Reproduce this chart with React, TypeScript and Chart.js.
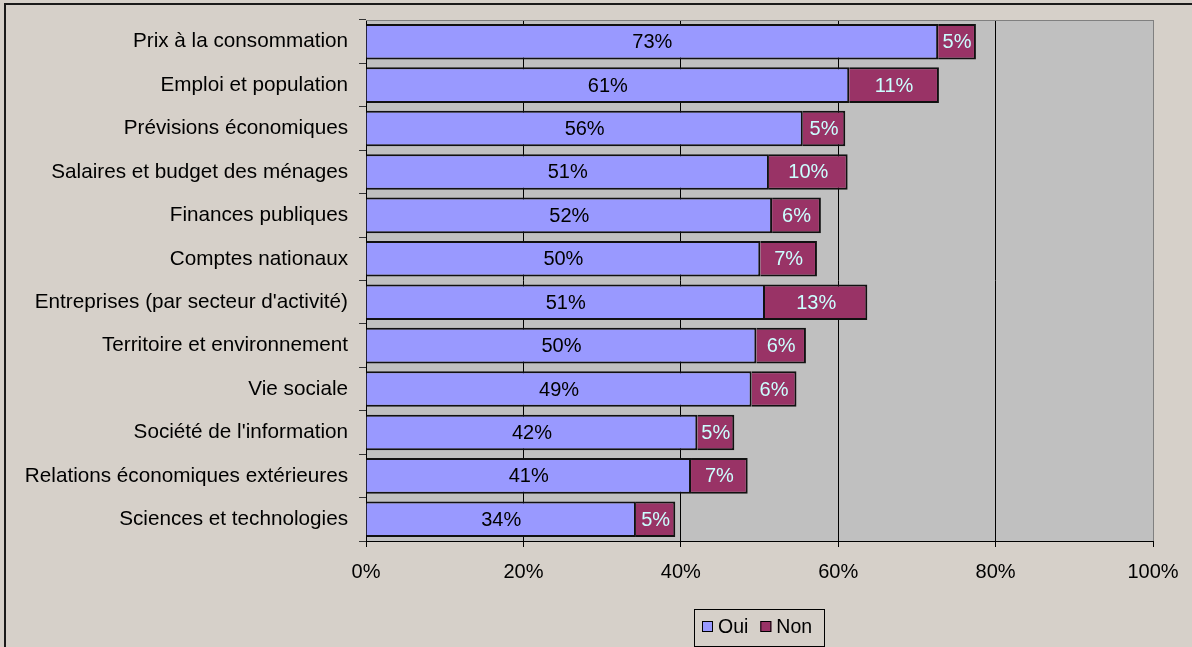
import React, { useEffect, useRef } from "react";
import { Chart, registerables } from "chart.js";

Chart.register(...registerables);

const categories = [
  "Prix à la consommation",
  "Emploi et population",
  "Prévisions économiques",
  "Salaires et budget des ménages",
  "Finances publiques",
  "Comptes nationaux",
  "Entreprises (par secteur d'activité)",
  "Territoire et environnement",
  "Vie sociale",
  "Société de l'information",
  "Relations économiques extérieures",
  "Sciences et technologies",
];

const ouiValues = [72.7, 61.4, 55.5, 51.2, 51.6, 50.1, 50.7, 49.6, 49.0, 42.1, 41.3, 34.3];
const nonValues = [4.8, 11.4, 5.4, 10.0, 6.2, 7.2, 13.0, 6.3, 5.7, 4.7, 7.2, 5.0];

const seriesNames = ["Oui", "Non"];
const seriesColors = ["#9999FF", "#993366"];
const labelColors = ["#000000", "#CCFFFF"];

const FONT = "'Liberation Sans', Arial, sans-serif";

const backgroundPlugin = {
  id: "bgPlugin",
  beforeDraw(chart: any) {
    const { ctx, chartArea } = chart;
    ctx.save();
    ctx.fillStyle = "#D6D0C9";
    ctx.fillRect(0, 0, chart.width, chart.height);
    ctx.strokeStyle = "#1a1a1a";
    ctx.lineWidth = 2;
    ctx.strokeRect(5, 4, chart.width + 20, chart.height + 20);
    ctx.fillStyle = "#C0C0C0";
    ctx.fillRect(chartArea.left, chartArea.top, chartArea.right - chartArea.left, chartArea.bottom - chartArea.top);
    ctx.restore();
  },
  afterDraw(chart: any) {
    const { ctx, chartArea } = chart;
    ctx.save();
    ctx.strokeStyle = "#808080";
    ctx.lineWidth = 1;
    ctx.beginPath();
    ctx.moveTo(chartArea.left, Math.round(chartArea.top) + 0.5);
    ctx.lineTo(Math.round(chartArea.right) + 0.5, Math.round(chartArea.top) + 0.5);
    ctx.lineTo(Math.round(chartArea.right) + 0.5, chartArea.bottom);
    ctx.stroke();

    const bx = 694, by = 609, bw = 130, bh = 37;
    ctx.fillStyle = "#D6D0C9";
    ctx.fillRect(bx, by, bw, bh);
    ctx.strokeStyle = "#000";
    ctx.lineWidth = 1;
    ctx.strokeRect(bx + 0.5, by + 0.5, bw, bh);
    ctx.font = `19.5px ${FONT}`;
    ctx.textBaseline = "middle";
    ctx.textAlign = "left";
    const cy = 627;
    let x = 702;
    chart.data.datasets.forEach((ds: any) => {
      ctx.fillStyle = ds.backgroundColor;
      ctx.fillRect(x, cy - 6, 11, 11);
      ctx.strokeStyle = "#000";
      ctx.strokeRect(x + 0.5, cy - 5.5, 10, 10);
      ctx.fillStyle = "#000";
      ctx.fillText(ds.label, x + 16, cy + 1);
      x += 16 + ctx.measureText(ds.label).width + 12;
    });
    ctx.restore();
  },
  afterDatasetsDraw(chart: any) {
    const { ctx } = chart;
    ctx.save();
    ctx.font = `20px ${FONT}`;
    ctx.textAlign = "center";
    ctx.textBaseline = "middle";
    chart.data.datasets.forEach((ds: any, i: number) => {
      const meta = chart.getDatasetMeta(i);
      meta.data.forEach((el: any, j: number) => {
        const v = ds.data[j];
        const cx = (el.x + el.base) / 2;
        ctx.fillStyle = labelColors[i];
        ctx.fillText(Math.round(v) + "%", cx, el.y + 1);
      });
    });
    ctx.restore();
  },
};

export default function App() {
  const ref = useRef<HTMLCanvasElement>(null);
  useEffect(() => {
    if (!ref.current) return;
    const chart = new Chart(ref.current, {
      type: "bar",
      data: {
        labels: categories,
        datasets: [
          {
            label: seriesNames[0],
            data: ouiValues,
            backgroundColor: seriesColors[0],
            borderColor: "#111",
            borderWidth: 2,
            barPercentage: 0.82,
            categoryPercentage: 1,
          },
          {
            label: seriesNames[1],
            data: nonValues,
            backgroundColor: seriesColors[1],
            borderColor: "#111",
            borderWidth: 2,
            barPercentage: 0.82,
            categoryPercentage: 1,
          },
        ],
      },
      options: {
        indexAxis: "y",
        responsive: false,
        animation: false,
        devicePixelRatio: 1,
        layout: { padding: { left: 0, right: 39, top: 20, bottom: 46 } },
        plugins: {
          legend: { display: false },
          tooltip: { enabled: false },
        },
        scales: {
          x: {
            stacked: true,
            min: 0,
            max: 100,
            afterFit: (s: any) => {
              s.height = 60;
            },
            ticks: {
              stepSize: 20,
              color: "#000",
              padding: 13,
              font: { family: FONT, size: 20 },
              callback: (v: any) => v + "%",
            },
            grid: {
              color: (ctx: any) => (ctx.tick && ctx.tick.value === 100 ? "#808080" : "#000"),
              tickColor: "#000",
              tickLength: 6,
              lineWidth: 1,
            },
            border: { color: "#000", width: 1 },
          },
          y: {
            stacked: true,
            afterFit: (s: any) => {
              s.width = 366;
              s.paddingTop = 0;
              s.paddingBottom = 0;
            },
            ticks: {
              color: "#000",
              padding: 11,
              font: { family: FONT, size: 20.7 },
            },
            grid: {
              drawOnChartArea: false,
              drawTicks: true,
              tickLength: 7,
              color: "#333",
              offset: true,
            },
            border: { color: "#000", width: 1 },
          },
        },
      },
      plugins: [backgroundPlugin],
    });
    return () => chart.destroy();
  }, []);
  return (
    <div style={{ position: "absolute", left: 0, top: 0, width: 1192, height: 647 }}>
      <canvas ref={ref} width={1192} height={647} style={{ width: 1192, height: 647, display: "block" }} />
    </div>
  );
}
